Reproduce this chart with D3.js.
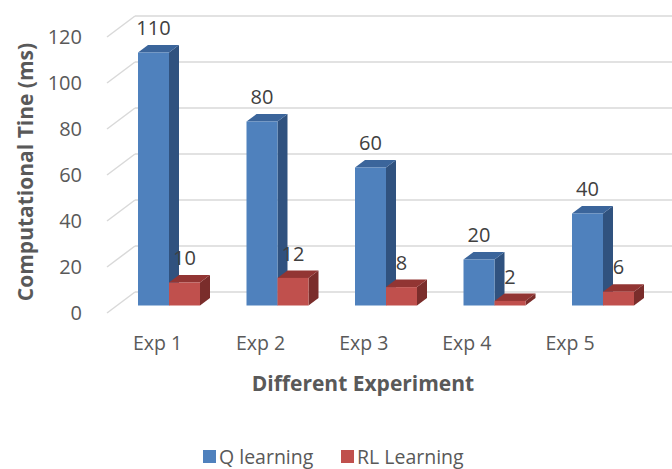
<!DOCTYPE html>
<html><head><meta charset="utf-8">
<script src="https://cdn.jsdelivr.net/npm/d3@7"></script>
<style>html,body{margin:0;padding:0;background:#fff;}svg{display:block;font-family:"Open Sans",sans-serif;}</style>
</head><body>
<svg id="c" width="672" height="469"></svg>
<script>
const categories = ["Exp 1","Exp 2","Exp 3","Exp 4","Exp 5"];
const seriesNames = ["Q learning","RL Learning"];
const qLearning = [110, 80, 60, 20, 40];
const rlLearning = [10, 12, 8, 2, 6];
const yTicks = [0, 20, 40, 60, 80, 100, 120];

const colors = {
  "Q learning": {front:"#4F81BD", side:"#30527F", top:"#3B659B"},
  "RL Learning": {front:"#C0504D", side:"#7A2D2B", top:"#923533"}
};
const seriesValues = {"Q learning": qLearning, "RL Learning": rlLearning};

const svg = d3.select("#c");

// scales
const yFront = d3.scaleLinear().domain([0,120]).range([313,37]);
const yBack  = d3.scaleLinear().domain([0,120]).range([292,16]);
const yBar   = d3.scaleLinear().domain([0,120]).range([305.5,29.5]);
const xGroup = d3.scaleBand().domain(categories).range([138,634]).paddingInner(0.4286).paddingOuter(0);
const xSeries = d3.scaleBand().domain(seriesNames).range([0, xGroup.bandwidth()]);
const xLabel = d3.scalePoint().domain(categories).range([157.5,570]);

const wallFrontX = 107, wallBackX = 135, wallEndX = 672;
const bdx = 10, bdy = -7.5;

// gridlines on back wall + side wall
const grid = svg.append("g");
yTicks.forEach(v => {
  grid.append("line").attr("x1", wallBackX).attr("x2", wallEndX)
    .attr("y1", yBack(v)).attr("y2", yBack(v))
    .attr("stroke","#D9D9D9").attr("stroke-width",1.5);
  grid.append("line").attr("x1", wallFrontX).attr("x2", wallBackX)
    .attr("y1", yFront(v)).attr("y2", yBack(v))
    .attr("stroke","#D9D9D9").attr("stroke-width",1.5);
});

// y tick labels
svg.append("g").selectAll("text").data(yTicks).join("text")
  .attr("x", 82).attr("y", d => yFront(d)).attr("dy","0.36em")
  .attr("text-anchor","end").attr("font-size",20).attr("fill","#595959")
  .text(d => d);

// bars
const bars = svg.append("g");
categories.forEach((c, i) => {
  seriesNames.forEach(s => {
    const v = seriesValues[s][i];
    const x0 = xGroup(c) + xSeries(s), w = xSeries.bandwidth();
    const yt = yBar(v), yb = yBar(0);
    const col = colors[s];
    bars.append("path").attr("d",
      `M${x0+w},${yb}L${x0+w+bdx},${yb+bdy}L${x0+w+bdx},${yt+bdy}L${x0+w},${yt}Z`)
      .attr("fill", col.side);
    bars.append("path").attr("d",
      `M${x0},${yt}L${x0+bdx},${yt+bdy}L${x0+w+bdx},${yt+bdy}L${x0+w},${yt}Z`)
      .attr("fill", col.top);
    bars.append("rect").attr("x", x0).attr("y", yt).attr("width", w).attr("height", yb-yt)
      .attr("fill", col.front);
  });
});

// data labels
const labels = svg.append("g");
categories.forEach((c, i) => {
  seriesNames.forEach(s => {
    const v = seriesValues[s][i];
    const xc = xGroup(c) + xSeries(s) + xSeries.bandwidth()/2;
    labels.append("text").attr("x", xc).attr("y", yBar(v) + bdy - 17).attr("dy","0.36em")
      .attr("text-anchor","middle").attr("font-size",20).attr("fill","#404040").text(v);
  });
});

// category labels
svg.append("g").selectAll("text").data(categories).join("text")
  .attr("x", d => xLabel(d)).attr("y", 343).attr("dy","0.36em")
  .attr("text-anchor","middle").attr("font-size",19.5).attr("fill","#595959").text(d => d);

// axis titles
svg.append("text").attr("x", 363).attr("y", 383).attr("dy","0.36em")
  .attr("text-anchor","middle").attr("font-size",21).attr("font-weight","bold")
  .attr("fill","#595959").text("Different Experiment");
svg.append("text").attr("transform","translate(25,172) rotate(-90)").attr("dy","0.36em")
  .attr("text-anchor","middle").attr("font-size",21).attr("font-weight","bold")
  .attr("fill","#595959").text("Computational Tine (ms)");

// legend
const legendX = [203, 341];
const lg = svg.append("g");
seriesNames.forEach((s, i) => {
  lg.append("rect").attr("x", legendX[i]).attr("y", 450).attr("width",13).attr("height",13)
    .attr("fill", colors[s].front);
  lg.append("text").attr("x", legendX[i]+16).attr("y", 456.5).attr("dy","0.36em")
    .attr("font-size",19.5).attr("fill","#595959").text(s);
});
</script>
</body></html>
